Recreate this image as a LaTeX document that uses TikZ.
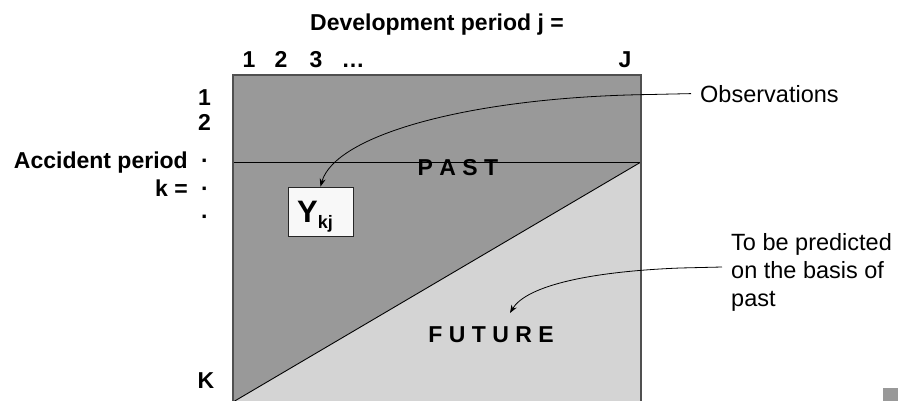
\documentclass[tikz,border=0pt]{standalone}
\usepackage{fontspec}
\setmainfont{Liberation Sans}
\usetikzlibrary{arrows.meta}
\definecolor{darkfill}{HTML}{999999}
\definecolor{lightfill}{HTML}{D4D4D4}
\definecolor{boxfill}{HTML}{F8F8F8}
\definecolor{edgegray}{HTML}{505050}
\begin{document}
\begin{tikzpicture}[x=1pt,y=-1pt,
  bl/.style={font=\fontsize{23}{28}\selectfont\bfseries, inner sep=0pt},
  rg/.style={font=\fontsize{23.5}{28}\selectfont, inner sep=0pt},
  lead/.style={line width=0.8pt, -{Stealth[length=8pt,width=6pt]}},
  thinline/.style={line width=0.9pt, black},
  ybox/.style={draw=black!85, line width=0.9pt, fill=boxfill, minimum width=65pt, minimum height=49pt, inner sep=0pt}]
\useasboundingbox (0,0) rectangle (898,400);
% corners
\coordinate (tl) at (233,75);
\coordinate (tr) at (641,75);
\coordinate (mr) at (641,162);
\coordinate (ml) at (233,162);
\coordinate (bl) at (233,402);
\coordinate (br) at (641,402);
% regions
\fill[darkfill] (tl) -- (tr) -- (mr) -- (bl) -- cycle;
\fill[lightfill] (mr) -- (br) -- (bl) -- cycle;
\draw[thinline] (ml) -- (mr);
\draw[thinline] (mr) -- (bl);
\draw[edgegray, line width=1.3pt] (bl) -- (tl) -- (tr) -- (br);
% small corner mark
\fill[darkfill] (883,388) rectangle (898,402);
% title and column labels
\node[bl, anchor=base] (title) at (437,30) {Development period j =};
\node[bl, anchor=base] (c1) at (249,67) {1};
\node[bl, anchor=base] (c2) at (281,67) {2};
\node[bl, anchor=base] (c3) at (316,67) {3};
\node[bl, anchor=base] (cdots) at (353,67) {…};
\node[bl, anchor=base] (cJ) at (625,67) {J};
% row labels
\node[bl, anchor=base east] (r1) at (211,105) {1};
\node[bl, anchor=base east] (r2) at (211,130) {2};
\node[bl, anchor=base east] (acc) at (188,168) {Accident period};
\node[bl, anchor=base] (d1) at (205,168) {·};
\node[bl, anchor=base east] (keq) at (188,196) {k =};
\node[bl, anchor=base] (d2) at (205,196) {·};
\node[bl, anchor=base] (d3) at (205,224) {·};
\node[bl, anchor=base] (rK) at (206,388) {K};
% region labels
\node[bl, anchor=base] (past) at (458,175) {P A S T};
\node[bl, anchor=base] (future) at (491,342) {F U T U R E};
% Y box
\node[ybox] (yk) at (320.5,211.5) {};
\node[inner sep=0pt, anchor=base west] (ytext) at (297,222)
  {\bfseries\fontsize{31}{31}\selectfont Y\raisebox{-6pt}{\fontsize{18}{18}\selectfont kj}};
% right-hand annotations
\node[rg, anchor=base west] (obs) at (700,102) {Observations};
\node[rg, anchor=north west, align=left] (pred) at (731,233.5) {To be predicted\\on the basis of\\past};
\coordinate (predlead) at (722,267);
\coordinate (futtip) at (510,313);
% leaders
\draw[lead] ([xshift=-9pt]obs.west) -- (650,94.5)
  .. controls (470,97) and (335,135) .. (yk.north);
\draw[lead] (predlead) -- (680,268)
  .. controls (580,272) and (525,288) .. (futtip);
\end{tikzpicture}
\end{document}
